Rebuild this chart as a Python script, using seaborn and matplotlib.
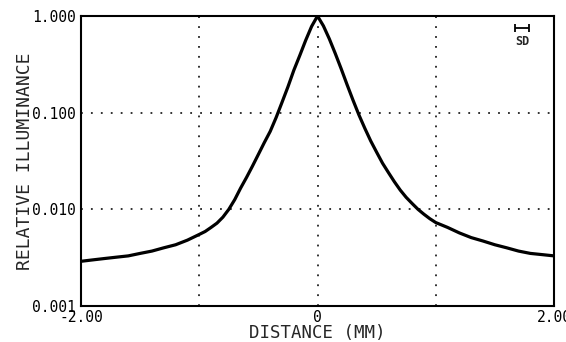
import matplotlib
matplotlib.use("Agg")
import matplotlib.pyplot as plt
import seaborn as sns
import pandas as pd

# values (distance in mm, relative illuminance)
distance = [-2.0, -1.9, -1.8, -1.7, -1.6, -1.5, -1.4, -1.3, -1.2, -1.1,
            -1.0, -0.95, -0.9, -0.85, -0.8, -0.75, -0.7, -0.65, -0.6, -0.55,
            -0.5, -0.45, -0.4, -0.35, -0.3, -0.25, -0.2, -0.15, -0.1, -0.05,
            0.0,
            0.05, 0.1, 0.15, 0.2, 0.25, 0.3, 0.35, 0.4, 0.45, 0.5,
            0.55, 0.6, 0.65, 0.7, 0.75, 0.8, 0.85, 0.9, 0.95, 1.0,
            1.1, 1.2, 1.3, 1.4, 1.5, 1.6, 1.7, 1.8, 1.9, 2.0]
illuminance = [0.0029, 0.0030, 0.0031, 0.0032, 0.0033, 0.0035, 0.0037, 0.0040, 0.0043, 0.0048,
               0.0055, 0.0059, 0.0065, 0.0072, 0.0083, 0.0100, 0.0126, 0.0166, 0.0214, 0.028,
               0.037, 0.049, 0.064, 0.089, 0.128, 0.185, 0.275, 0.39, 0.56, 0.78,
               1.0,
               0.79, 0.58, 0.41, 0.285, 0.195, 0.135, 0.095, 0.069, 0.051, 0.039,
               0.030, 0.024, 0.0193, 0.0158, 0.0133, 0.0115, 0.0100, 0.0089, 0.0080, 0.0073,
               0.0065, 0.0057, 0.0051, 0.0047, 0.0043, 0.0040, 0.0037, 0.0035, 0.0034, 0.0033]

x_ticks = [-2.0, 0.0, 2.0]
x_tick_labels = ["-2.00", "0", "2.00"]
x_grid = [-1.0, 0.0, 1.0]
y_ticks = [0.001, 0.01, 0.1, 1.0]
y_tick_labels = ["0.001", "0.010", "0.100", "1.000"]
y_grid = [0.01, 0.1]
sd_center = 1.73
sd_half_width = 0.06
sd_level = 0.75
sd_text_level = 0.54

df = pd.DataFrame({"distance": distance, "illuminance": illuminance})

sns.set_style("white")
plt.rcParams["font.family"] = ["DejaVu Sans Mono"]

fig = plt.figure(figsize=(5.66, 3.42), dpi=100)
ax = fig.add_axes([81/566, 1-306/342, (554-81)/566, (306-16)/342])

for gx in x_grid:
    ax.axvline(gx, color="#222222", lw=1.3, ls=(0, (1, 4.5)), zorder=1)
for gy in y_grid:
    ax.axhline(gy, color="#222222", lw=1.3, ls=(0, (1, 4.5)), zorder=1)

sns.lineplot(data=df, x="distance", y="illuminance", ax=ax, color="black",
             lw=2.3, zorder=3)

ax.set_yscale("log")
ax.set_xlim(-2.0, 2.0)
ax.set_ylim(0.001, 1.0)
ax.set_yticks(y_ticks)
ax.set_yticklabels(y_tick_labels)
ax.set_xticks(x_ticks)
ax.set_xticklabels(x_tick_labels)
ax.yaxis.set_minor_locator(matplotlib.ticker.NullLocator())
ax.tick_params(axis="both", which="major", direction="out", length=3, width=1.2,
               labelsize=10.5, colors="black", pad=1)
ax.tick_params(axis="x", pad=0)

for s in ax.spines.values():
    s.set_visible(True)
    s.set_color("black")
    s.set_linewidth(1.5)

ax.set_xlabel("DISTANCE (MM)", fontsize=12.5, labelpad=-1)
ax.set_ylabel("RELATIVE ILLUMINANCE", fontsize=13, labelpad=-2)

# SD marker
ax.errorbar([sd_center], [sd_level], xerr=[[sd_half_width], [sd_half_width]],
            fmt="none", ecolor="black", elinewidth=1.3, capsize=3, capthick=1.3)
ax.text(sd_center, sd_text_level, "SD", ha="center", va="center", fontsize=8.5,
        fontweight="bold")

fig.savefig("out.png", dpi=100, facecolor="white")
